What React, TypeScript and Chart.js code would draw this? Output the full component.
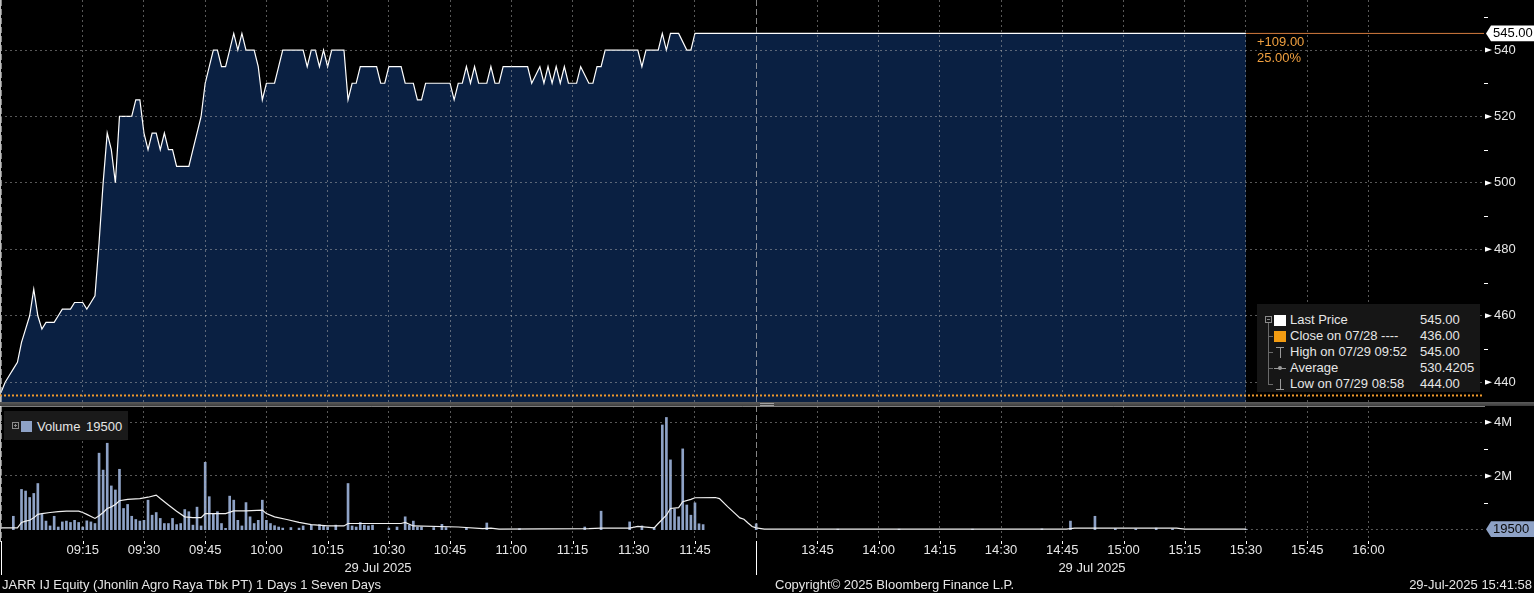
import React, { useEffect, useRef } from "react";
import { Chart, registerables } from "chart.js";

Chart.register(...registerables);

// ---------------- data ----------------
const TICKER_TEXT = "JARR IJ Equity (Jhonlin Agro Raya Tbk PT) 1 Days 1 Seven Days";
const COPYRIGHT_TEXT = "Copyright\u00A9 2025 Bloomberg Finance L.P.";
const STAMP_TEXT = "29-Jul-2025 15:41:58";
const DATE_LABEL = "29 Jul 2025";

const PREV_CLOSE = 436;
const LAST_PRICE = 545;
const LAST_VOLUME = 19500;

const PRICE_TIMES = [
  "08:55", "08:56", "08:57", "08:58", "08:59", "09:00", "09:01", "09:02", "09:03", "09:04",
  "09:05", "09:06", "09:08", "09:09", "09:10", "09:12", "09:13", "09:15", "09:16", "09:17",
  "09:18", "09:19", "09:20", "09:21", "09:22", "09:23", "09:24", "09:27", "09:28", "09:29",
  "09:30", "09:31", "09:32", "09:33", "09:34", "09:35", "09:36", "09:37", "09:38", "09:41",
  "09:42", "09:43", "09:44", "09:45", "09:46", "09:47", "09:48", "09:49", "09:50", "09:51",
  "09:52", "09:53", "09:54", "09:55", "09:57", "09:58", "09:59", "10:00", "10:02", "10:03",
  "10:04", "10:09", "10:10", "10:11", "10:12", "10:13", "10:14", "10:15", "10:16", "10:19",
  "10:20", "10:21", "10:22", "10:23", "10:27", "10:28", "10:29", "10:30", "10:33", "10:34",
  "10:36", "10:37", "10:38", "10:39", "10:45", "10:46", "10:47", "10:48", "10:49", "10:50",
  "10:51", "10:52", "10:54", "10:55", "10:56", "10:57", "10:58", "11:04", "11:05", "11:07",
  "11:08", "11:09", "11:10", "11:11", "11:12", "11:13", "11:14", "11:16", "11:17", "11:19",
  "11:20", "11:21", "11:22", "11:23", "11:30", "11:31", "11:32", "11:33", "11:36", "11:37",
  "11:38", "11:39", "11:41", "11:43", "11:44", "11:45", "15:30",
];
const PRICE_VALUES = [
  437, 440, 442, 444, 446, 452, 456, 460, 468, 460,
  456, 458, 458, 460, 462, 462, 464, 464, 462, 464,
  466, 482, 500, 515, 510, 500, 520, 520, 525, 525,
  515, 510, 515, 515, 510, 515, 510, 510, 505, 505,
  510, 515, 520, 530, 535, 540, 540, 535, 535, 540,
  545, 540, 545, 540, 540, 535, 525, 530, 530, 535,
  540, 540, 535, 540, 540, 535, 540, 535, 540, 540,
  525, 530, 530, 535, 535, 530, 530, 535, 535, 530,
  530, 525, 525, 530, 530, 525, 530, 530, 535, 530,
  535, 530, 530, 535, 530, 530, 535, 535, 530, 535,
  530, 535, 530, 535, 530, 535, 530, 530, 535, 530,
  530, 535, 535, 540, 540, 540, 535, 540, 540, 545,
  540, 545, 545, 540, 540, 545, 545,
];

const VOLUME_TIMES = [
  "08:58", "09:00", "09:01", "09:02", "09:03", "09:04", "09:05", "09:06", "09:07", "09:08",
  "09:09", "09:10", "09:11", "09:12", "09:13", "09:14", "09:15", "09:16", "09:17", "09:18",
  "09:19", "09:20", "09:21", "09:22", "09:23", "09:24", "09:25", "09:26", "09:27", "09:28",
  "09:29", "09:30", "09:31", "09:32", "09:33", "09:34", "09:35", "09:36", "09:37", "09:38",
  "09:39", "09:40", "09:41", "09:42", "09:43", "09:44", "09:45", "09:46", "09:47", "09:48",
  "09:49", "09:50", "09:51", "09:52", "09:53", "09:54", "09:55", "09:56", "09:57", "09:58",
  "09:59", "10:00", "10:01", "10:02", "10:03", "10:04", "10:06", "10:08", "10:09", "10:11",
  "10:13", "10:14", "10:15", "10:17", "10:20", "10:21", "10:22", "10:23", "10:24", "10:25",
  "10:26", "10:30", "10:32", "10:34", "10:35", "10:36", "10:37", "10:38", "10:41", "10:43",
  "10:44", "10:49", "10:54", "11:02", "11:18", "11:22", "11:29", "11:32", "11:35", "11:37",
  "11:38", "11:39", "11:40", "11:41", "11:42", "11:43", "11:44", "11:45", "11:46", "11:47",
  "13:30", "13:50", "14:05", "14:23", "14:40", "14:47", "14:53", "14:58", "15:03", "15:08",
  "15:12", "15:30",
];
const VOLUME_VALUES = [
  500000, 1500000, 1440000, 1200000, 1350000, 1720000, 570000, 320000, 140000, 500000,
  100000, 290000, 320000, 270000, 350000, 270000, 100000, 330000, 290000, 230000,
  2850000, 2220000, 3220000, 1630000, 1480000, 2250000, 790000, 940000, 500000, 380000,
  320000, 350000, 1100000, 540000, 640000, 420000, 230000, 230000, 420000, 190000,
  230000, 750000, 670000, 170000, 840000, 140000, 2510000, 1230000, 600000, 670000,
  230000, 50000, 1250000, 1100000, 350000, 140000, 1010000, 480000, 230000, 350000,
  1100000, 350000, 230000, 150000, 100000, 60000, 80000, 60000, 140000, 170000,
  190000, 140000, 100000, 170000, 1720000, 140000, 100000, 270000, 170000, 140000,
  170000, 60000, 100000, 480000, 170000, 320000, 100000, 100000, 80000, 200000,
  80000, 60000, 250000, 40000, 100000, 690000, 290000, 140000, 80000, 3900000,
  4180000, 2600000, 770000, 480000, 3010000, 920000, 540000, 1000000, 220000, 190000,
  220000, 20000, 20000, 20000, 30000, 320000, 500000, 40000, 30000, 60000,
  30000, 19500,
];

const VOLUME_AVG_TIMES = [
  "08:55", "08:59", "09:00", "09:01", "09:02", "09:03", "09:04", "09:05", "09:07", "09:09",
  "09:11", "09:14", "09:15", "09:16", "09:18", "09:19", "09:20", "09:21", "09:22", "09:23",
  "09:24", "09:26", "09:29", "09:31", "09:33", "09:34", "09:36", "09:38", "09:40", "09:42",
  "09:44", "09:45", "09:50", "09:52", "09:55", "09:59", "10:00", "10:02", "10:05", "10:08",
  "10:11", "10:15", "10:19", "10:20", "10:33", "10:34", "10:36", "10:47", "10:53", "10:55",
  "10:57", "11:19", "11:22", "11:29", "11:31", "11:35", "11:36", "11:38", "11:39", "11:41",
  "11:42", "11:44", "11:45", "11:50", "11:51", "11:53", "11:54", "11:56", "11:57", "11:58",
  "11:59", "13:30", "13:32", "14:46", "14:48", "15:13", "15:15", "15:30",
];
const VOLUME_AVG_VALUES = [
  70000, 70000, 270000, 320000, 350000, 440000, 570000, 600000, 640000, 670000,
  690000, 690000, 640000, 570000, 420000, 520000, 640000, 790000, 850000, 940000,
  1080000, 1130000, 1160000, 1210000, 1290000, 1160000, 920000, 690000, 480000, 450000,
  450000, 600000, 600000, 700000, 700000, 730000, 600000, 480000, 380000, 270000,
  190000, 140000, 140000, 230000, 230000, 270000, 140000, 100000, 40000, 60000,
  20000, 40000, 60000, 60000, 120000, 70000, 230000, 540000, 790000, 820000,
  1040000, 1130000, 1190000, 1200000, 1160000, 860000, 720000, 440000, 390000, 250000,
  120000, 70000, 20000, 20000, 60000, 60000, 20000, 20000,
];

const SESSION_STARTS = ["08:55", "13:30"];
const TIME_TICK_LABELS = [
  "09:15", "09:30", "09:45", "10:00", "10:15", "10:30", "10:45", "11:00", "11:15", "11:30", "11:45",
  "13:45", "14:00", "14:15", "14:30", "14:45", "15:00", "15:15", "15:30", "15:45", "16:00",
];
const PRICE_TICKS = [440, 450, 460, 470, 480, 490, 500, 510, 520, 530, 540, 550];
const PRICE_TICK_LABELS = ["440", "", "460", "", "480", "", "500", "", "520", "", "540", ""];
const VOLUME_TICKS = [1000000, 2000000, 3000000, 4000000];
const VOLUME_TICK_LABELS = ["", "2M", "", "4M"];

const LEGEND_LABELS = ["Last Price", "Close on 07/28 ----", "High on 07/29 09:52", "Average", "Low on 07/29 08:58"];
const LEGEND_VALUES = ["545.00", "436.00", "545.00", "530.4205", "444.00"];

// axis ranges (trading minutes from 09:00, lunch break collapsed)
const X_MIN = -5.27;
const X_MAX = 358.32;
const PRICE_MIN = 434.04;
const PRICE_MAX = 555.06;
const VOLUME_MIN = -421000;
const VOLUME_MAX = 4607000;

// ---------------- styles ----------------
const FONT = "'Liberation Sans', Arial, Helvetica, sans-serif";
const TEXT = "#e6e6e6";
const GRID = "rgba(175,175,175,0.5)";
const SESSION_GRID = "rgba(190,190,190,0.7)";
const FILL = "#0a2042";
const VOL_COLOR = "#8ea2c6";
const CLOSE_COLOR = "#f09a2c";
const LAST_LINE = "#d27a3e";
const CHANGE_COLOR = "#f0a040";

Chart.defaults.font.family = FONT;
Chart.defaults.font.size = 13;

const toMin = (t: string): number => {
  const [h, m] = t.split(":").map(Number);
  let v = h * 60 + m - 540;
  if (v >= 270) v -= 90; // 12:00-13:30 lunch collapsed
  return v;
};

const sessionSet = new Set(SESSION_STARTS.map(toMin));
const labelByValue = new Map(TIME_TICK_LABELS.map((t) => [toMin(t), t] as [number, string]));
const xTickValues = [...SESSION_STARTS, ...TIME_TICK_LABELS].map(toMin).sort((a, b) => a - b);

function xScale(showLabels: boolean): any {
  return {
    type: "linear",
    min: X_MIN,
    max: X_MAX,
    offset: false,
    afterBuildTicks: (s: any) => {
      s.ticks = xTickValues.map((v) => ({ value: v }));
    },
    afterFit: (s: any) => {
      s.height = showLabels ? 52 : 0;
      s.paddingLeft = 0;
      s.paddingRight = 0;
    },
    ticks: {
      display: showLabels,
      autoSkip: false,
      maxRotation: 0,
      minRotation: 0,
      padding: 2,
      color: TEXT,
      font: { size: 13, family: FONT },
      callback: (v: any) => labelByValue.get(Number(v)) ?? "",
    },
    grid: {
      z: 1,
      offset: false,
      drawTicks: false,
      lineWidth: 1,
      color: (c: any) => (c.tick && sessionSet.has(c.tick.value) ? SESSION_GRID : GRID),
    },
    border: {
      display: showLabels,
      color: "#ffffff",
      width: 1,
      dash: (c: any) => (c.tick && sessionSet.has(c.tick.value) ? [6, 3] : [2, 3]),
    },
  };
}

function yScale(min: number, max: number, ticks: number[], labels: string[]): any {
  return {
    type: "linear",
    position: "right",
    min,
    max,
    afterBuildTicks: (s: any) => {
      s.ticks = ticks.map((v) => ({ value: v }));
    },
    afterFit: (s: any) => {
      s.width = 50;
      s.paddingTop = 0;
      s.paddingBottom = 0;
    },
    ticks: {
      padding: 10,
      color: TEXT,
      font: { size: 13, family: FONT },
      callback: (v: any) => labels[ticks.indexOf(Number(v))] ?? "",
    },
    grid: {
      z: 1,
      drawTicks: false,
      color: (c: any) => (c.tick && labels[ticks.indexOf(c.tick.value)] ? GRID : "rgba(0,0,0,0)"),
    },
    border: { display: true, color: "#ffffff", width: 1.5, dash: [2, 3] },
  };
}

function drawAxisMarks(ctx: CanvasRenderingContext2D, scale: any, ticks: number[], labels: string[]) {
  const x0 = scale.left;
  ctx.fillStyle = "#ffffff";
  ctx.strokeStyle = "#ffffff";
  ctx.lineWidth = 1;
  ticks.forEach((v, i) => {
    const py = scale.getPixelForValue(v);
    if (labels[i]) {
      ctx.beginPath();
      ctx.moveTo(x0 + 1, py - 2.5);
      ctx.lineTo(x0 + 8, py);
      ctx.lineTo(x0 + 1, py + 2.5);
      ctx.closePath();
      ctx.fill();
    } else {
      const yy = Math.round(py) + 0.5;
      ctx.beginPath();
      ctx.moveTo(x0, yy);
      ctx.lineTo(x0 + 4, yy);
      ctx.stroke();
    }
  });
}

function drawTag(ctx: CanvasRenderingContext2D, x0: number, py: number, right: number, text: string, fill: string, color: string) {
  ctx.fillStyle = fill;
  ctx.beginPath();
  ctx.moveTo(x0 + 2, py);
  ctx.lineTo(x0 + 7, py - 7.8);
  ctx.lineTo(right, py - 7.8);
  ctx.lineTo(right, py + 7.8);
  ctx.lineTo(x0 + 7, py + 7.8);
  ctx.closePath();
  ctx.fill();
  ctx.fillStyle = color;
  ctx.font = `13px ${FONT}`;
  ctx.textBaseline = "middle";
  ctx.textAlign = "left";
  ctx.fillText(text, x0 + 9, py + 0.5);
}

const priceDecor = {
  id: "priceDecor",
  afterDraw(chart: any) {
    const { ctx, scales } = chart;
    ctx.save();
    drawAxisMarks(ctx, scales.y, PRICE_TICKS, PRICE_TICK_LABELS);
    drawTag(ctx, scales.y.left, scales.y.getPixelForValue(LAST_PRICE), chart.width, LAST_PRICE.toFixed(2), "#ffffff", "#000000");
    ctx.restore();
  },
};

const volumeDecor = {
  id: "volumeDecor",
  afterDraw(chart: any) {
    const { ctx, scales, chartArea } = chart;
    ctx.save();
    drawAxisMarks(ctx, scales.y, VOLUME_TICKS, VOLUME_TICK_LABELS);
    // last value dotted line
    const ly = Math.round(scales.y.getPixelForValue(LAST_VOLUME)) + 0.5;
    const lx = scales.x.getPixelForValue(toMin(VOLUME_TIMES[VOLUME_TIMES.length - 1]));
    ctx.strokeStyle = GRID;
    ctx.setLineDash([2, 3]);
    ctx.lineWidth = 1;
    ctx.beginPath();
    ctx.moveTo(lx, ly);
    ctx.lineTo(chartArea.right, ly);
    ctx.stroke();
    ctx.setLineDash([]);
    // tick marks below the time axis
    ctx.strokeStyle = "#ffffff";
    xTickValues.forEach((v) => {
      const px = Math.round(scales.x.getPixelForValue(v)) + 0.5;
      const len = sessionSet.has(v) ? 34 : 3;
      ctx.beginPath();
      ctx.moveTo(px, chartArea.bottom);
      ctx.lineTo(px, chartArea.bottom + len);
      ctx.stroke();
    });
    drawTag(ctx, scales.y.left, scales.y.getPixelForValue(LAST_VOLUME), chart.width, String(LAST_VOLUME), VOL_COLOR, "#0a0a0a");
    ctx.restore();
  },
};

function priceConfig(): any {
  const pts = PRICE_TIMES.map((t, i) => ({ x: toMin(t), y: PRICE_VALUES[i] }));
  const lastX = pts[pts.length - 1].x;
  return {
    type: "line",
    data: {
      datasets: [
        {
          data: pts,
          borderColor: "#ffffff",
          borderWidth: 1.2,
          backgroundColor: FILL,
          fill: "start",
          pointRadius: 0,
          tension: 0,
          order: 2,
        },
        {
          data: [{ x: lastX, y: LAST_PRICE }, { x: X_MAX, y: LAST_PRICE }],
          borderColor: LAST_LINE,
          borderWidth: 1,
          pointRadius: 0,
          fill: false,
          order: 1,
        },
        {
          data: [{ x: X_MIN, y: PREV_CLOSE }, { x: X_MAX, y: PREV_CLOSE }],
          borderColor: CLOSE_COLOR,
          borderWidth: 2,
          borderDash: [2, 2],
          pointRadius: 0,
          fill: false,
          order: 0,
        },
      ],
    },
    options: {
      animation: false,
      responsive: false,
      devicePixelRatio: 1,
      layout: { padding: 0 },
      plugins: { legend: { display: false }, tooltip: { enabled: false } },
      scales: {
        x: xScale(false),
        y: yScale(PRICE_MIN, PRICE_MAX, PRICE_TICKS, PRICE_TICK_LABELS),
      },
    },
    plugins: [priceDecor],
  };
}

function volumeConfig(): any {
  return {
    type: "bar",
    data: {
      datasets: [
        {
          type: "line",
          data: VOLUME_AVG_TIMES.map((t, i) => ({ x: toMin(t), y: VOLUME_AVG_VALUES[i] })),
          borderColor: "#f0f0f0",
          borderWidth: 1.2,
          pointRadius: 0,
          fill: false,
          tension: 0,
          order: 0,
        },
        {
          type: "bar",
          data: VOLUME_TIMES.map((t, i) => ({ x: toMin(t), y: VOLUME_VALUES[i] })),
          backgroundColor: VOL_COLOR,
          barThickness: 2,
          order: 1,
        },
      ],
    },
    options: {
      animation: false,
      responsive: false,
      devicePixelRatio: 1,
      layout: { padding: 0 },
      plugins: { legend: { display: false }, tooltip: { enabled: false } },
      scales: {
        x: xScale(true),
        y: yScale(VOLUME_MIN, VOLUME_MAX, VOLUME_TICKS, VOLUME_TICK_LABELS),
      },
    },
    plugins: [volumeDecor],
  };
}

const abs = (s: React.CSSProperties): React.CSSProperties => ({ position: "absolute", ...s });
const textStyle: React.CSSProperties = {
  fontFamily: FONT,
  fontSize: 13,
  color: TEXT,
  whiteSpace: "nowrap",
  lineHeight: "16px",
};

function PriceLegend() {
  const swatch = ["#ffffff", "#f39c12"];
  return (
    <div style={abs({ left: 1257, top: 304, width: 223, height: 88, background: "#161616" })}>
      <div style={abs({ left: 8, top: 12, width: 5, height: 5, border: "1px solid #8a8a8a" })}>
        <div style={abs({ left: 1, top: 2, width: 3, height: 1, background: "#8a8a8a" })} />
      </div>
      <div style={abs({ left: 11, top: 19, width: 1, height: 61, background: "#6a6a6a" })} />
      {[1, 2, 3, 4].map((i) => (
        <div key={i} style={abs({ left: 11, top: 16 + 16 * i, width: 5, height: 1, background: "#6a6a6a" })} />
      ))}
      {LEGEND_LABELS.map((lab, i) => {
        const top = 8 + 16 * i;
        return (
          <React.Fragment key={lab}>
            {i < 2 && <div style={abs({ left: 17, top: top + 2.5, width: 12, height: 11, background: swatch[i] })} />}
            {i === 2 && (
              <>
                <div style={abs({ left: 19, top: top + 3, width: 8, height: 1, background: "#9a9a9a" })} />
                <div style={abs({ left: 22.5, top: top + 3, width: 1, height: 11, background: "#9a9a9a" })} />
              </>
            )}
            {i === 3 && (
              <>
                <div style={abs({ left: 17, top: top + 8, width: 12, height: 1, background: "#9a9a9a" })} />
                <div style={abs({ left: 20.5, top: top + 6, width: 4, height: 4, borderRadius: 3, background: "#9a9a9a" })} />
              </>
            )}
            {i === 4 && (
              <>
                <div style={abs({ left: 22.5, top: top + 3, width: 1, height: 11, background: "#9a9a9a" })} />
                <div style={abs({ left: 19, top: top + 13, width: 8, height: 1, background: "#9a9a9a" })} />
              </>
            )}
            <div style={abs({ ...textStyle, left: 33, top })}>{lab}</div>
            <div style={abs({ ...textStyle, left: 163, top })}>{LEGEND_VALUES[i]}</div>
          </React.Fragment>
        );
      })}
    </div>
  );
}

function VolumeLegend() {
  return (
    <div style={abs({ left: 4, top: 411, width: 124, height: 29, background: "#1a1a1a" })}>
      <div style={abs({ left: 8, top: 11, width: 5, height: 5, border: "1px solid #8a8a8a" })}>
        <div style={abs({ left: 1, top: 2, width: 3, height: 1, background: "#8a8a8a" })} />
        <div style={abs({ left: 2, top: 1, width: 1, height: 3, background: "#8a8a8a" })} />
      </div>
      <div style={abs({ left: 17, top: 9.5, width: 11, height: 11, background: VOL_COLOR })} />
      <div style={abs({ ...textStyle, left: 33, top: 8 })}>Volume</div>
      <div style={abs({ ...textStyle, left: 82, top: 8 })}>{String(LAST_VOLUME)}</div>
    </div>
  );
}

export default function App() {
  const priceRef = useRef<HTMLCanvasElement>(null);
  const volRef = useRef<HTMLCanvasElement>(null);

  useEffect(() => {
    const pc = new Chart(priceRef.current as HTMLCanvasElement, priceConfig());
    const vc = new Chart(volRef.current as HTMLCanvasElement, volumeConfig());
    return () => {
      pc.destroy();
      vc.destroy();
    };
  }, []);

  const change = LAST_PRICE - PREV_CLOSE;
  const pct = (change / PREV_CLOSE) * 100;

  return (
    <div style={{ position: "fixed", left: 0, top: 0, width: 1534, height: 593, background: "#000", overflow: "hidden" }}>
      <canvas ref={priceRef} width={1534} height={402} style={abs({ left: 0, top: 0, width: 1534, height: 402 })} />
      <div style={abs({ left: 0, top: 402, width: 1534, height: 4, background: "linear-gradient(#5c5c5c, #3c3c3c)" })} />
      <div style={abs({ left: 760, top: 403, width: 14, height: 1, borderTop: "1px solid #a0a0a0", borderBottom: "1px solid #a0a0a0" })} />
      <canvas ref={volRef} width={1534} height={187} style={abs({ left: 0, top: 406, width: 1534, height: 187 })} />

      <div style={abs({ ...textStyle, color: CHANGE_COLOR, left: 1257, top: 34 })}>{"+" + change.toFixed(2)}</div>
      <div style={abs({ ...textStyle, color: CHANGE_COLOR, left: 1257, top: 50 })}>{pct.toFixed(2) + "%"}</div>

      <PriceLegend />
      <VolumeLegend />

      <div style={abs({ ...textStyle, left: 378, top: 559.5, transform: "translateX(-50%)" })}>{DATE_LABEL}</div>
      <div style={abs({ ...textStyle, left: 1092, top: 559.5, transform: "translateX(-50%)" })}>{DATE_LABEL}</div>

      <div style={abs({ ...textStyle, left: 2, top: 577 })}>{TICKER_TEXT}</div>
      <div style={abs({ ...textStyle, left: 775, top: 577 })}>{COPYRIGHT_TEXT}</div>
      <div style={abs({ ...textStyle, right: 2, top: 577 })}>{STAMP_TEXT}</div>
    </div>
  );
}
